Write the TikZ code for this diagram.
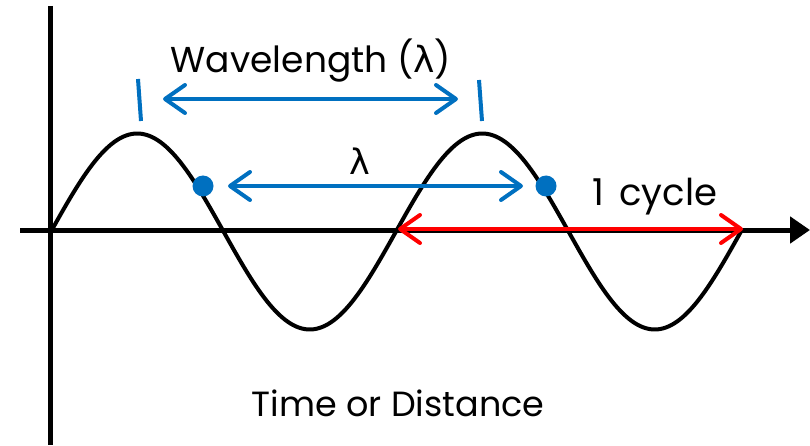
\documentclass[tikz,border=0pt]{standalone}
\usepackage{fontspec}
\setmainfont{Poppins}
\newfontfamily\greekfont{DejaVu Sans}
\usetikzlibrary{arrows.meta}
\definecolor{wblue}{RGB}{0,112,192}
\definecolor{wred}{RGB}{255,0,0}
\tikzset{
  axisline/.style={line width=5pt, black},
  waveline/.style={line width=4pt, black},
  bluearrow/.style={line width=4pt, wblue, {Straight Barb[length=20pt,width=28pt,round]}-{Straight Barb[length=20pt,width=28pt,round]}},
  redarrow/.style={line width=4pt, wred, {Straight Barb[length=20pt,width=28pt,round]}-{Straight Barb[length=20pt,width=28pt,round]}},
  tickmark/.style={line width=4pt, wblue},
  bluedot/.style={circle, fill=wblue, inner sep=0pt, minimum size=21pt},
  lbl/.style={font=\fontsize{35}{38}\selectfont, inner sep=0pt, text=black}
}
\begin{document}
\begin{tikzpicture}[x=1pt,y=-1pt]
\useasboundingbox[fill=white] (0,0) rectangle (810,446);
% axes
\coordinate (ytop) at (50,6);
\coordinate (ybot) at (50,445);
\coordinate (xl) at (20,230);
\coordinate (xr) at (810,230);
\draw[axisline] (ytop) -- (ybot);
\draw[axisline, -{Triangle[length=20pt,width=26pt]}] (xl) -- (xr);
% wave
\draw[waveline, line cap=round] plot[domain=0:690, samples=240, smooth] ({51+\x}, {231.5-98*sin(\x/345*360)});
% tick marks
\coordinate (t1a) at (138,79);
\coordinate (t1b) at (141,121);
\coordinate (t2a) at (479,80);
\coordinate (t2b) at (482,121);
\draw[tickmark] (t1a) -- (t1b);
\draw[tickmark] (t2a) -- (t2b);
% wavelength arrow
\coordinate (wl) at (163,99);
\coordinate (wr) at (458,99);
\draw[bluearrow] (wl) -- (wr);
\node[lbl, font=\fontsize{36}{40}\selectfont] (wlabel) at (311,61) {Wavelength ({\greekfont λ})};
% dots and lambda arrow
\node[bluedot] (d1) at (203,186) {};
\node[bluedot] (d2) at (546,186) {};
\coordinate (ll) at (228,186);
\coordinate (lr) at (523,186);
\draw[bluearrow] (ll) -- (lr);
\node[lbl] (lam) at (360,161) {{\greekfont λ}};
% one cycle
\coordinate (cl) at (398,229);
\coordinate (cr) at (743,229);
\draw[redarrow] (cl) -- (cr);
\node[lbl, font=\fontsize{37}{42}\selectfont] (cyc) at (655,197) {1 \hspace{5pt}cycle};
% axis label
\node[lbl] (tod) at (398,403) {Time or Distance};
\end{tikzpicture}
\end{document}
